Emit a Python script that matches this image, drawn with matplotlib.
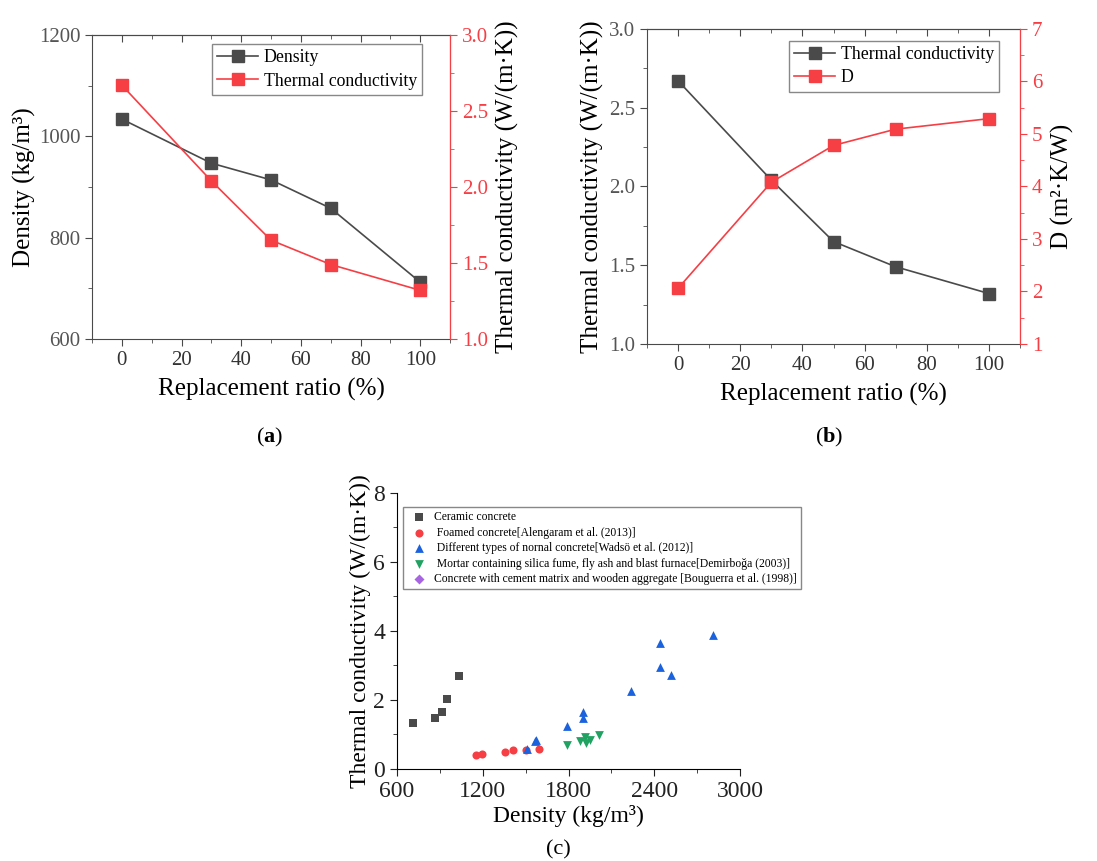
import matplotlib
matplotlib.use("Agg")
import matplotlib.pyplot as plt
from matplotlib.ticker import MultipleLocator, NullFormatter

plt.rcParams["font.family"] = ["Liberation Serif", "DejaVu Serif"]
plt.rcParams["mathtext.fontset"] = "custom"
plt.rcParams["mathtext.rm"] = "Liberation Serif"
plt.rcParams["mathtext.bf"] = "Liberation Serif:bold"

# data
ratio = [0, 30, 50, 70, 100]
density = [1034, 947, 914, 858, 712]
conductivity = [2.67, 2.04, 1.65, 1.49, 1.32]
d_value = [2.06, 4.08, 4.78, 5.09, 5.29]

ceramic_x = [714, 863, 916, 949, 1035]
ceramic_y = [1.32, 1.49, 1.65, 2.04, 2.68]
foamed_x = [1155, 1193, 1353, 1409, 1502, 1595]
foamed_y = [0.40, 0.42, 0.50, 0.54, 0.54, 0.58]
normal_x = [1507, 1567, 1570, 1788, 1898, 1898, 2239, 2440, 2443, 2516, 2811]
normal_y = [0.59, 0.80, 0.85, 1.24, 1.64, 1.48, 2.26, 3.65, 2.96, 2.72, 3.87]
mortar_x = [1788, 1879, 1918, 1921, 1949, 2016]
mortar_y = [0.69, 0.80, 0.93, 0.76, 0.85, 0.99]
wood_x = []
wood_y = []

GREY = "#4a4a4a"
RED = "#f53f45"
BLUE = "#1a62de"
GREEN = "#22a262"
PURPLE = "#a865e0"
TICK_GREY = "#555555"

fig = plt.figure(figsize=(10.97, 8.61), dpi=100)


def style_ratio_axis(ax):
    ax.set_xlim(-10, 110)
    ax.xaxis.set_major_locator(MultipleLocator(20))
    ax.xaxis.set_minor_locator(MultipleLocator(10))
    ax.tick_params(axis="x", which="both", direction="out",
                   labelsize=15, colors=GREY, labelcolor="#333333")
    ax.tick_params(axis="x", which="major", length=5)
    ax.tick_params(axis="x", which="minor", length=3)
    ax.set_xlabel("Replacement ratio (%)", fontsize=18, labelpad=6)
    for s in ["left", "bottom", "top"]:
        ax.spines[s].set_color(GREY)
    # inward ticks along the top spine
    sec = ax.secondary_xaxis("top")
    sec.xaxis.set_major_locator(MultipleLocator(20))
    sec.xaxis.set_minor_locator(MultipleLocator(10))
    sec.xaxis.set_major_formatter(NullFormatter())
    sec.tick_params(axis="x", which="both", direction="in", colors=GREY)
    sec.tick_params(which="major", length=5)
    sec.tick_params(which="minor", length=3)
    sec.spines["top"].set_color(GREY)


def style_right(ax2):
    ax2.spines["right"].set_color(RED)
    for s in ["left", "top", "bottom"]:
        ax2.spines[s].set_visible(False)
    ax2.tick_params(axis="y", which="both", colors=RED, labelsize=15)
    ax2.tick_params(axis="y", which="major", length=5)
    ax2.tick_params(axis="y", which="minor", length=3)


def style_left(ax):
    ax.tick_params(axis="y", which="both", colors=GREY, labelcolor=TICK_GREY, labelsize=15)
    ax.tick_params(axis="y", which="major", length=5)
    ax.tick_params(axis="y", which="minor", length=3)


legend_kw = dict(loc="upper right", fontsize=12.8, fancybox=False, edgecolor="#888888",
                 framealpha=1, handlelength=2.3, borderpad=0.3, labelspacing=0.35,
                 handletextpad=0.3, borderaxespad=0)

# (a)
ax_a = fig.add_axes([0.0839, 0.6063, 0.3264, 0.353])
l1, = ax_a.plot(ratio, density, color=GREY, marker="s", markersize=8, lw=1.2, label="Density")
ax_a.set_ylim(600, 1200)
ax_a.yaxis.set_major_locator(MultipleLocator(200))
ax_a.yaxis.set_minor_locator(MultipleLocator(100))
style_left(ax_a)
ax_a.set_ylabel("Density (kg/m³)", fontsize=18, labelpad=2)
style_ratio_axis(ax_a)
ax_a2 = ax_a.twinx()
l2, = ax_a2.plot(ratio, conductivity, color=RED, marker="s", markersize=8, lw=1.2,
                 label="Thermal conductivity")
ax_a2.set_ylim(1.0, 3.0)
ax_a2.yaxis.set_major_locator(MultipleLocator(0.5))
ax_a2.yaxis.set_minor_locator(MultipleLocator(0.25))
style_right(ax_a2)
ax_a2.set_ylabel("Thermal conductivity (W/(m·K))", fontsize=18, labelpad=6)
ax_a2.legend(handles=[l1, l2], bbox_to_anchor=(0.922, 0.97), **legend_kw)

# (b)
ax_b = fig.add_axes([0.5898, 0.6005, 0.34, 0.366])
l3, = ax_b.plot(ratio, conductivity, color=GREY, marker="s", markersize=8, lw=1.2,
                label="Thermal conductivity")
ax_b.set_ylim(1.0, 3.0)
ax_b.yaxis.set_major_locator(MultipleLocator(0.5))
ax_b.yaxis.set_minor_locator(MultipleLocator(0.25))
style_left(ax_b)
ax_b.set_ylabel("Thermal conductivity (W/(m·K))", fontsize=18, labelpad=4)
style_ratio_axis(ax_b)
ax_b2 = ax_b.twinx()
l4, = ax_b2.plot(ratio, d_value, color=RED, marker="s", markersize=8, lw=1.2, label="D")
ax_b2.set_ylim(1, 7)
ax_b2.yaxis.set_major_locator(MultipleLocator(1))
ax_b2.yaxis.set_minor_locator(MultipleLocator(0.5))
style_right(ax_b2)
ax_b2.set_ylabel("D (m²·K/W)", fontsize=18, labelpad=6)
ax_b2.legend(handles=[l3, l4], bbox_to_anchor=(0.944, 0.962), **legend_kw)

# (c)
ax_c = fig.add_axes([0.3619, 0.1069, 0.3127, 0.3206])
ax_c.scatter(ceramic_x, ceramic_y, marker="s", s=30, color=GREY, lw=0,
             label="Ceramic concrete")
ax_c.scatter(foamed_x, foamed_y, marker="o", s=34, color=RED, lw=0,
             label=" Foamed concrete[Alengaram et al. (2013)]")
ax_c.scatter(normal_x, normal_y, marker="^", s=40, color=BLUE, lw=0,
             label=" Different types of nornal concrete[Wadsö et al. (2012)]")
ax_c.scatter(mortar_x, mortar_y, marker="v", s=40, color=GREEN, lw=0,
             label=" Mortar containing silica fume, fly ash and blast furnace[Demirboğa (2003)]")
ax_c.scatter(wood_x, wood_y, marker="D", s=26, color=PURPLE, lw=0,
             label="Concrete with cement matrix and wooden aggregate [Bouguerra et al. (1998)]")
ax_c.set_xlim(600, 3000)
ax_c.set_ylim(0, 8)
ax_c.xaxis.set_major_locator(MultipleLocator(600))
ax_c.xaxis.set_minor_locator(MultipleLocator(300))
ax_c.yaxis.set_major_locator(MultipleLocator(2))
ax_c.yaxis.set_minor_locator(MultipleLocator(1))
ax_c.spines["top"].set_visible(False)
ax_c.spines["right"].set_visible(False)
ax_c.tick_params(which="both", direction="out", labelsize=17, colors="#222222")
ax_c.tick_params(which="major", length=5)
ax_c.tick_params(which="minor", length=3)
ax_c.set_xlabel("Density (kg/m³)", fontsize=17, labelpad=2)
ax_c.set_ylabel("Thermal conductivity (W/(m·K))", fontsize=17, labelpad=2)
ax_c.legend(loc="upper left", bbox_to_anchor=(0.017, 0.949), fontsize=8.4,
            fancybox=False, edgecolor="#888888", framealpha=1, borderaxespad=0,
            handletextpad=0.3, labelspacing=0.3, borderpad=0.35, scatterpoints=1)

fig.text(0.246, 0.492, "($\\mathbf{a}$)", fontsize=16, ha="center", va="center")
fig.text(0.756, 0.492, "($\\mathbf{b}$)", fontsize=16, ha="center", va="center")
fig.text(0.509, 0.013, "(c)", fontsize=16, ha="center", va="center")

fig.savefig("out.png", dpi=100)
